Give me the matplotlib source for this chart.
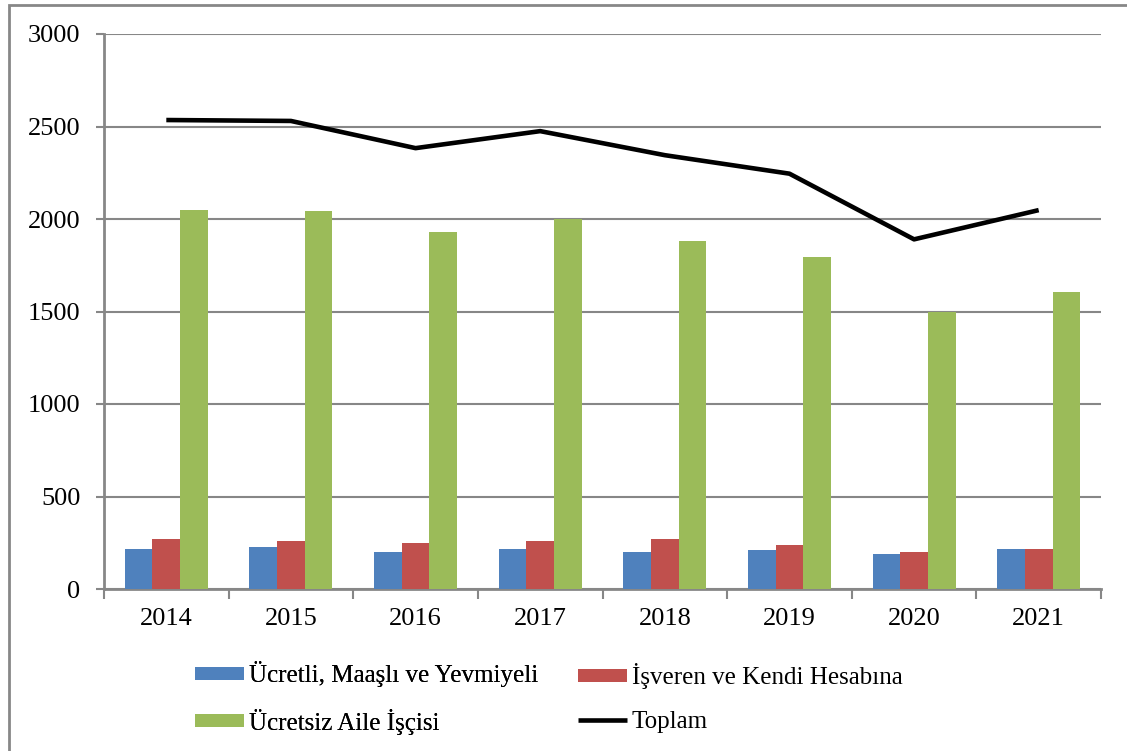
import numpy as np
import matplotlib
matplotlib.use("Agg")
import matplotlib.pyplot as plt
from matplotlib.patches import Rectangle

years = ["2014", "2015", "2016", "2017", "2018", "2019", "2020", "2021"]
ucretli = [215, 229, 200, 215, 200, 209, 188, 215]
isveren = [270, 258, 249, 258, 270, 236, 200, 215]
ucretsiz = [2051, 2041, 1931, 2000, 1883, 1792, 1500, 1608]
toplam = [2535, 2530, 2383, 2475, 2345, 2245, 1890, 2048]

labels = ["Ücretli, Maaşlı ve Yevmiyeli", "İşveren ve Kendi Hesabına",
          "Ücretsiz Aile İşçisi", "Toplam"]
colors = ["#4F81BD", "#C0504D", "#9BBB59", "black"]
gray = "#878787"

plt.rcParams['font.family'] = ['Liberation Serif', 'DejaVu Serif']

fig = plt.figure(figsize=(11.27, 7.51), dpi=100)
ax = fig.add_axes([104 / 1127, 1 - 589 / 751, (1101 - 104) / 1127, (589 - 34) / 751])

x = np.arange(len(years))
w = 0.222
b1 = ax.bar(x - w, ucretli, w, color=colors[0], zorder=3)
b2 = ax.bar(x, isveren, w, color=colors[1], zorder=3)
b3 = ax.bar(x + w, ucretsiz, w, color=colors[2], zorder=3)
ln, = ax.plot(x, toplam, color=colors[3], linewidth=3.3, zorder=4, solid_capstyle='butt')

ax.set_xlim(-0.5, len(years) - 0.5)
ax.set_ylim(0, 3000)
ax.set_yticks(np.arange(0, 3001, 500))
ax.yaxis.grid(True, color=gray, linewidth=1.5, zorder=0)
ax.set_axisbelow(True)

ax.set_xticks(x)
ax.set_xticklabels(years)
ax.set_xticks(np.arange(-0.5, len(years), 1), minor=True)
ax.tick_params(axis='x', which='major', length=0, pad=14, labelsize=19)
ax.tick_params(axis='x', which='minor', length=7, width=1.5, color=gray, direction='out')
ax.tick_params(axis='y', length=6, width=1.5, color=gray, pad=11, labelsize=19)

for s in ['top', 'right']:
    ax.spines[s].set_visible(False)
for s in ['left', 'bottom']:
    ax.spines[s].set_color(gray)
    ax.spines[s].set_linewidth(2)

# two one-column legends so each column sits where the reference has it
leg_kw = dict(loc='center left', frameon=False, fontsize=18, handlelength=1.95,
              handleheight=0.45, handletextpad=0.2, labelspacing=0.85, borderpad=0,
              borderaxespad=0)
leg1 = fig.legend([b1, b3], [labels[0], labels[2]],
                  bbox_to_anchor=(195 / 1127, 1 - 698 / 751), **leg_kw)
fig.add_artist(leg1)
fig.legend([b2, ln], [labels[1], labels[3]],
           bbox_to_anchor=(578 / 1127, 1 - 698 / 751), **leg_kw)

fig.add_artist(Rectangle((9 / 1127, -0.1), 1.2, 1 - 5 / 751 + 0.1, transform=fig.transFigure,
                         fill=False, edgecolor=gray, linewidth=2))

fig.savefig("out.png", dpi=100)
